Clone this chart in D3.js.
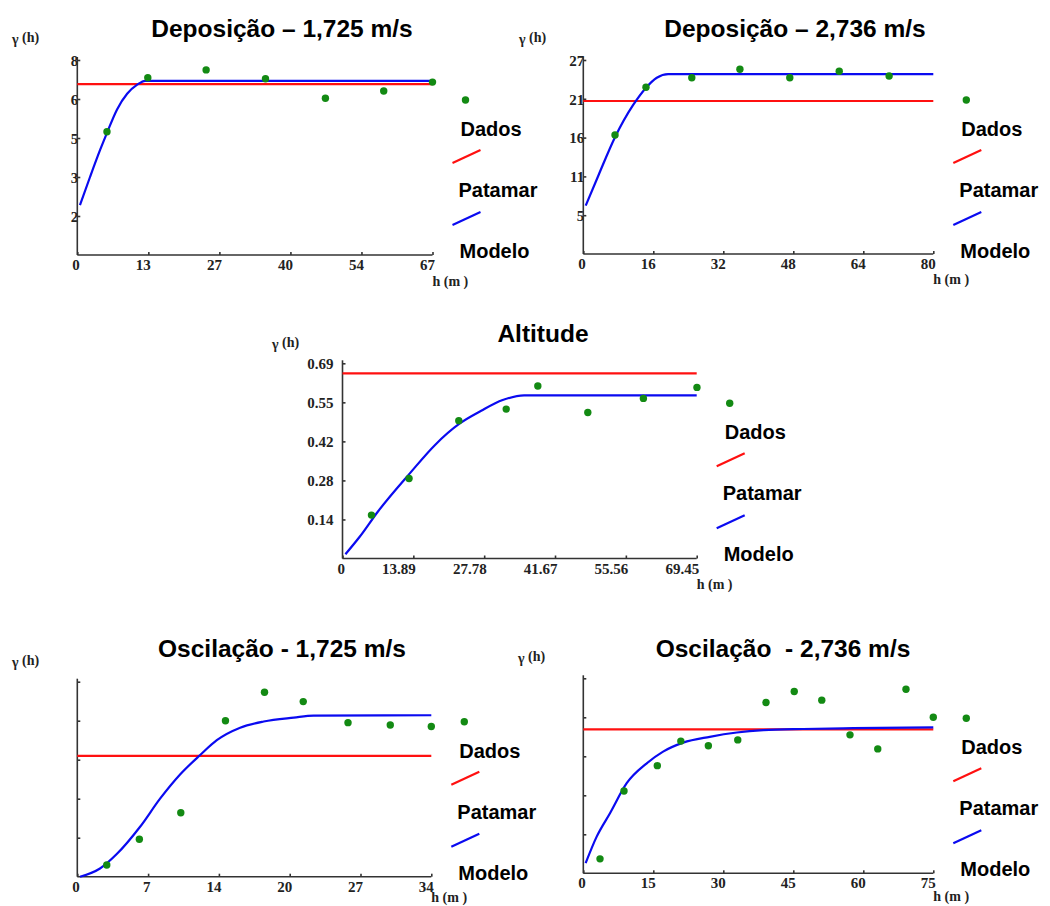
<!DOCTYPE html>
<html><head><meta charset="utf-8">
<script src="https://cdn.jsdelivr.net/npm/d3@7"></script>
<style>
body{margin:0;background:#fff}
svg{display:block}
.t{font-family:"Liberation Sans",Arial,sans-serif;font-weight:bold;fill:#000}
.s{font-family:"Liberation Serif","Times New Roman",serif;font-weight:bold;fill:#222}
</style>
</head><body><svg id="c" width="1050" height="906"></svg>
<script>
// ---------------- DATA ----------------
const titles = ["Deposição – 1,725 m/s", "Deposição – 2,736 m/s", "Altitude", "Oscilação - 1,725 m/s", "Oscilação  - 2,736 m/s"];
const legendLabels = ["Dados", "Patamar", "Modelo"];
const yAxisLabel = "γ";
const yAxisLabelSub = "(h)";
const xAxisLabel = "h (m )";

// Deposição – 1,725 m/s
const dep1XDomain = [0, 67];
const dep1YDomain = [0.6, 8.1];
const dep1XTicks = [0, 13.4, 26.8, 40.2, 53.6, 67];
const dep1XTickLabels = ["0", "13", "27", "40", "54", "67"];
const dep1YTicks = [2.1, 3.6, 5.1, 6.6, 8.1];
const dep1YTickLabels = ["2", "3", "5", "6", "8"];
const dep1DadosH = [5.6, 13.3, 24.3, 35.5, 46.8, 57.8, 67];
const dep1DadosG = [5.34, 7.42, 7.72, 7.38, 6.63, 6.91, 7.25];
const dep1Patamar = 7.17;
const dep1ModeloH = [0.5, 2.4, 4.3, 5.6, 7.5, 9.4, 11.3, 12.8, 67];
const dep1ModeloG = [2.52, 3.6, 4.64, 5.3, 6.2, 6.8, 7.15, 7.3, 7.3];

// Deposição – 2,736 m/s
const dep2XDomain = [0, 80];
const dep2YDomain = [0.3, 27.05];
const dep2XTicks = [0, 16, 32, 48, 64, 80];
const dep2XTickLabels = ["0", "16", "32", "48", "64", "80"];
const dep2YTicks = [5.65, 11, 16.35, 21.7, 27.05];
const dep2YTickLabels = ["5", "11", "16", "21", "27"];
const dep2DadosH = [7.25, 14.33, 24.8, 35.8, 47.2, 58.5, 69.9];
const dep2DadosG = [16.71, 23.29, 24.6, 25.77, 24.6, 25.5, 24.85];
const dep2Patamar = 21.4;
const dep2ModeloH = [0.55, 3.5, 7.25, 11.4, 14.3, 16.8, 19.4, 80];
const dep2ModeloG = [6.96, 11.2, 16.4, 20.85, 23.2, 24.6, 25.1, 25.1];

// Altitude
const altXDomain = [0, 69.45];
const altYDomain = [0, 0.6925];
const altXTicks = [0, 13.89, 27.78, 41.67, 55.56, 69.45];
const altXTickLabels = ["0", "13.89", "27.78", "41.67", "55.56", "69.45"];
const altYTicks = [0.1385, 0.277, 0.4155, 0.554, 0.6925];
const altYTickLabels = ["0.14", "0.28", "0.42", "0.55", "0.69"];
const altDadosH = [5.68, 13.05, 22.8, 32.1, 38.3, 48.1, 59.0, 69.5];
const altDadosG = [0.154, 0.284, 0.489, 0.530, 0.612, 0.518, 0.568, 0.607];
const altPatamar = 0.657;
const altModeloH = [0.57, 3.37, 6.88, 13.2, 18.1, 23.0, 27.2, 31.4, 35.6, 69.45];
const altModeloG = [0.015, 0.077, 0.165, 0.302, 0.402, 0.479, 0.524, 0.562, 0.579, 0.579];

// Oscilação - 1,725 m/s
const osc1XDomain = [0, 34];
const osc1YDomain = [0, 5];
const osc1XTicks = [0, 6.8, 13.6, 20.4, 27.2, 34];
const osc1XTickLabels = ["0", "7", "14", "20", "27", "34"];
const osc1YTicks = [1, 2, 3, 4, 5];
const osc1YTickLabels = ["", "", "", "", ""];
const osc1DadosH = [2.83, 5.96, 9.94, 14.23, 17.98, 21.7, 26.0, 30.06, 34];
const osc1DadosG = [0.30, 0.96, 1.64, 4.0, 4.73, 4.49, 3.95, 3.89, 3.85];
const osc1Patamar = 3.10;
const osc1ModeloH = [0.26, 2.18, 3.79, 6.03, 7.95, 9.87, 11.8, 13.4, 15.64, 17.9, 20.8, 22.7, 34];
const osc1ModeloG = [0, 0.21, 0.58, 1.28, 2.0, 2.62, 3.12, 3.5, 3.82, 3.98, 4.08, 4.13, 4.14];

// Oscilação - 2,736 m/s
const osc2XDomain = [0, 75];
const osc2YDomain = [0, 5];
const osc2XTicks = [0, 15, 30, 45, 60, 75];
const osc2XTickLabels = ["0", "15", "30", "45", "60", "75"];
const osc2YTicks = [1, 2, 3, 4, 5];
const osc2YTickLabels = ["", "", "", "", ""];
const osc2DadosH = [3.58, 8.72, 15.86, 20.9, 26.8, 33.1, 39.15, 45.2, 51.1, 57.15, 63.1, 69.15, 75];
const osc2DadosG = [0.37, 2.11, 2.76, 3.39, 3.27, 3.42, 4.38, 4.66, 4.44, 3.55, 3.19, 4.72, 4.0];
const osc2Patamar = 3.69;
const osc2ModeloH = [0.5, 2.87, 5.72, 9.3, 13.6, 17.1, 21.4, 27.1, 32.9, 38.6, 47.1, 57.9, 75];
const osc2ModeloG = [0.26, 0.94, 1.54, 2.31, 2.82, 3.12, 3.35, 3.50, 3.61, 3.67, 3.70, 3.72, 3.74];

// ---------------- PANELS (data + layout) ----------------
const panels = [
  {title: titles[0], xd: dep1XDomain, yd: dep1YDomain, xt: dep1XTicks, xtl: dep1XTickLabels, yt: dep1YTicks, ytl: dep1YTickLabels,
   dh: dep1DadosH, dg: dep1DadosG, pat: dep1Patamar, mh: dep1ModeloH, mg: dep1ModeloG,
   L: 77.3, R: 432.5, B: 255, T: 60, tx: 282, ty: 37, gx: 12, gy: 44, ylx: 1, hy: 286},
  {title: titles[1], xd: dep2XDomain, yd: dep2YDomain, xt: dep2XTicks, xtl: dep2XTickLabels, yt: dep2YTicks, ytl: dep2YTickLabels,
   dh: dep2DadosH, dg: dep2DadosG, pat: dep2Patamar, mh: dep2ModeloH, mg: dep2ModeloG,
   L: 583.3, R: 933.3, B: 254, T: 60, tx: 795, ty: 37, gx: 519, gy: 44, ylx: 1, hy: 284},
  {title: titles[2], xd: altXDomain, yd: altYDomain, xt: altXTicks, xtl: altXTickLabels, yt: altYTicks, ytl: altYTickLabels,
   dh: altDadosH, dg: altDadosG, pat: altPatamar, mh: altModeloH, mg: altModeloG,
   L: 342.5, R: 696.7, B: 558.5, T: 363.3, tx: 543, ty: 342, gx: 272, gy: 349, ylx: -9, hy: 589},
  {title: titles[3], xd: osc1XDomain, yd: osc1YDomain, xt: osc1XTicks, xtl: osc1XTickLabels, yt: osc1YTicks, ytl: osc1YTickLabels,
   dh: osc1DadosH, dg: osc1DadosG, pat: osc1Patamar, mh: osc1ModeloH, mg: osc1ModeloG,
   L: 77.3, R: 431.3, B: 876.7, T: 681.7, tx: 282, ty: 657, gx: 12, gy: 667, ylx: 1, hy: 902},
  {title: titles[4], xd: osc2XDomain, yd: osc2YDomain, xt: osc2XTicks, xtl: osc2XTickLabels, yt: osc2YTicks, ytl: osc2YTickLabels,
   dh: osc2DadosH, dg: osc2DadosG, pat: osc2Patamar, mh: osc2ModeloH, mg: osc2ModeloG,
   L: 583.3, R: 933.3, B: 873.3, T: 678.3, tx: 783, ty: 657, gx: 518, gy: 663, ylx: 1, hy: 901}
];

const GREEN = "#138a13", RED = "#ff1010", BLUE = "#0a0af0", AXIS = "#333";
const svg = d3.select("#c");

panels.forEach(p => {
  const g = svg.append("g");
  const x = d3.scaleLinear().domain(p.xd).range([p.L, p.R]);
  const y = d3.scaleLinear().domain(p.yd).range([p.B, p.T]);

  // title
  g.append("text").attr("class", "t").attr("x", p.tx).attr("y", p.ty)
    .attr("text-anchor", "middle").attr("font-size", 24.5)
    .style("white-space", "pre").text(p.title);

  // axes
  const xAxis = d3.axisBottom(x).tickValues(p.xt)
    .tickFormat((d, i) => p.xtl[i]).tickSizeInner(-3).tickSizeOuter(0);
  const gx = g.append("g").attr("transform", `translate(0,${p.B})`).call(xAxis);
  gx.select(".domain").remove();
  gx.selectAll(".tick line").attr("stroke", AXIS).attr("stroke-width", 1.6);
  gx.selectAll(".tick text").attr("class", "s").attr("font-size", 15)
    .attr("text-anchor", "end").attr("x", 2).attr("y", 15).attr("dy", 0)
    .attr("fill", "#222");

  const yAxis = d3.axisLeft(y).tickValues(p.yt)
    .tickFormat((d, i) => p.ytl[i]).tickSizeInner(-3).tickSizeOuter(0);
  const gy = g.append("g").attr("transform", `translate(${p.L},0)`).call(yAxis);
  gy.select(".domain").remove();
  gy.selectAll(".tick line").attr("stroke", AXIS).attr("stroke-width", 1.6);
  gy.selectAll(".tick text").attr("class", "s").attr("font-size", 15)
    .attr("text-anchor", "end").attr("x", p.ylx).attr("dy", "0.35em")
    .attr("fill", "#222");

  // axis lines
  g.append("line").attr("x1", p.L).attr("x2", p.L).attr("y1", p.B).attr("y2", p.T - 3)
    .attr("stroke", AXIS).attr("stroke-width", 1.6);
  g.append("line").attr("x1", p.L).attr("x2", p.R).attr("y1", p.B).attr("y2", p.B)
    .attr("stroke", AXIS).attr("stroke-width", 1.6);

  // axis labels
  const gl = g.append("text").attr("class", "s").attr("x", p.gx).attr("y", p.gy).attr("font-size", 14);
  gl.append("tspan").text(yAxisLabel + " ");
  gl.append("tspan").attr("dy", -2).text(yAxisLabelSub);
  g.append("text").attr("class", "s").attr("x", p.R).attr("y", p.hy)
    .attr("font-size", 14).style("white-space", "pre").text(xAxisLabel);

  // patamar (red)
  g.append("line").attr("x1", x(p.xd[0])).attr("x2", x(p.xd[1]))
    .attr("y1", y(p.pat)).attr("y2", y(p.pat))
    .attr("stroke", RED).attr("stroke-width", 2.2);

  // modelo (blue)
  const pts = p.mh.map((h, i) => [h, p.mg[i]]);
  g.append("path").datum(pts)
    .attr("d", d3.line().x(d => x(d[0])).y(d => y(d[1])).curve(d3.curveMonotoneX))
    .attr("fill", "none").attr("stroke", BLUE).attr("stroke-width", 2.2);

  // dados (green)
  g.selectAll("circle.d").data(p.dh.map((h, i) => [h, p.dg[i]])).enter()
    .append("circle").attr("cx", d => x(d[0])).attr("cy", d => y(d[1]))
    .attr("r", 3.7).attr("fill", GREEN);

  // legend
  const R = p.R, T = p.T;
  g.append("circle").attr("cx", R + 33).attr("cy", T + 40).attr("r", 3.7).attr("fill", GREEN);
  g.append("text").attr("class", "t").attr("font-size", 20).attr("x", R + 28).attr("y", T + 76).text(legendLabels[0]);
  g.append("line").attr("x1", R + 20).attr("y1", T + 103).attr("x2", R + 48).attr("y2", T + 90)
    .attr("stroke", RED).attr("stroke-width", 2.2);
  g.append("text").attr("class", "t").attr("font-size", 20).attr("x", R + 26).attr("y", T + 137).text(legendLabels[1]);
  g.append("line").attr("x1", R + 20).attr("y1", T + 165).attr("x2", R + 48).attr("y2", T + 152)
    .attr("stroke", BLUE).attr("stroke-width", 2.2);
  g.append("text").attr("class", "t").attr("font-size", 20).attr("x", R + 27).attr("y", T + 198).text(legendLabels[2]);
});
</script>
</body></html>
